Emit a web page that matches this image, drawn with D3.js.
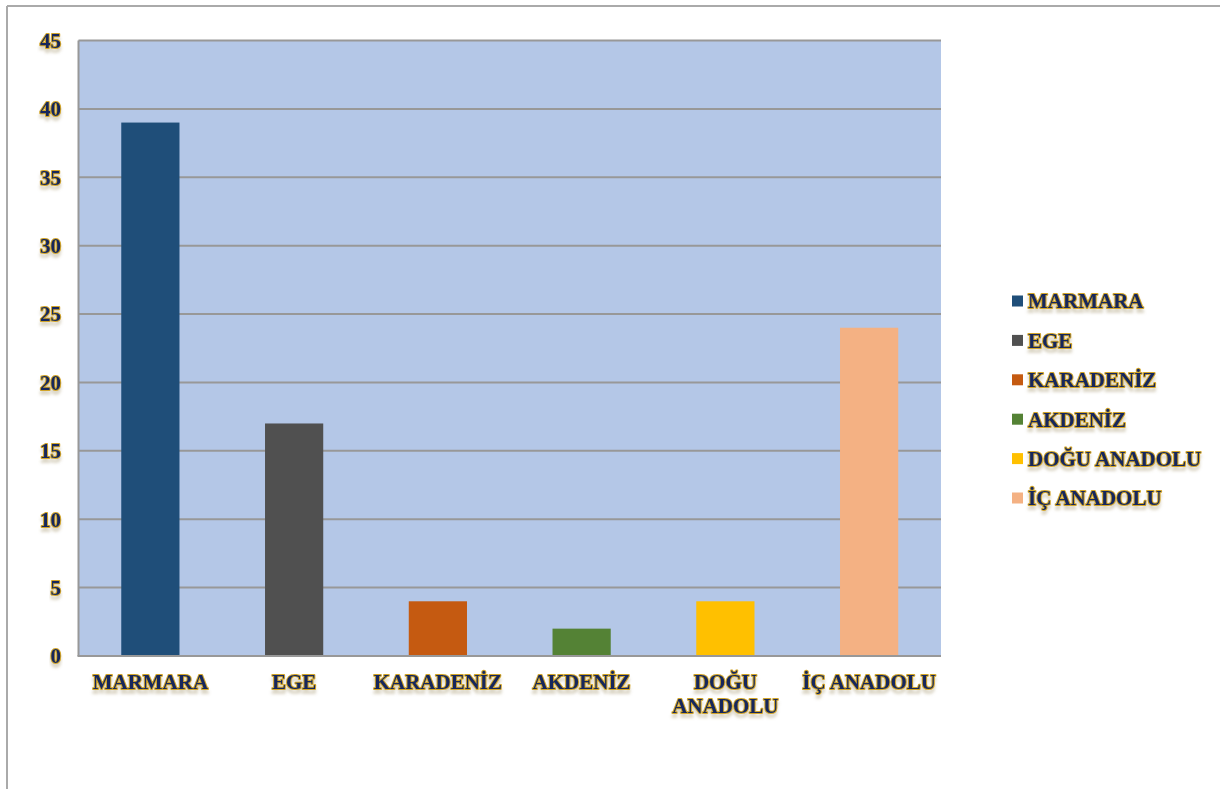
<!DOCTYPE html>
<html>
<head>
<meta charset="utf-8">
<script src="https://cdn.jsdelivr.net/npm/d3@7"></script>
<style>
body { margin: 0; background: #fff; }
.lbl { font-family: "Times New Roman", "Liberation Serif", Tinos, serif; font-weight: bold; font-size: 21px; }
</style>
</head>
<body>
<svg id="chart"></svg>
<script>
const width = 1229;
const height = 789;

const categories = ['MARMARA', 'EGE', 'KARADENİZ', 'AKDENİZ', 'DOĞU ANADOLU', 'İÇ ANADOLU'];
const values = [39, 17, 4, 2, 4, 24];
const colors = ['#1f4e79', '#505050', '#c55a11', '#548235', '#ffc000', '#f4b183'];
const axisLabels = [['MARMARA'], ['EGE'], ['KARADENİZ'], ['AKDENİZ'], ['DOĞU', 'ANADOLU'], ['İÇ ANADOLU']];
const yTicks = [0, 5, 10, 15, 20, 25, 30, 35, 40, 45];

const svg = d3.select('#chart').attr('width', width).attr('height', height);

// soft reflection-like shadow under labels
const defs = svg.append('defs');
defs.append('filter').attr('id', 'glow')
  .attr('x', '-10%').attr('y', '-20%').attr('width', '120%').attr('height', '180%')
  .append('feDropShadow')
  .attr('dx', 0).attr('dy', 4).attr('stdDeviation', 1.6)
  .attr('flood-color', '#9a8a60').attr('flood-opacity', 0.35);

// outer frame (only top and left visible)
svg.append('line').attr('x1', 7).attr('y1', 6).attr('x2', 1220).attr('y2', 6)
  .attr('stroke', '#aaa').attr('stroke-width', 2);
svg.append('line').attr('x1', 7).attr('y1', 6).attr('x2', 7).attr('y2', height)
  .attr('stroke', '#aaa').attr('stroke-width', 2);

const plot = { left: 78.5, top: 40.5, right: 941, bottom: 656 };

const x = d3.scaleBand().domain(categories).range([plot.left, plot.right]);
const y = d3.scaleLinear().domain([0, 45]).range([plot.bottom, plot.top]);

// word-art like label: navy fill, gold outline
const fancyText = (parent, tx, ty, lines, anchor) => {
  const t = parent.append('text').attr('class', 'lbl')
    .attr('transform', `translate(${tx},${ty})`)
    .attr('text-anchor', anchor)
    .attr('fill', '#14285c')
    .attr('stroke', '#d2a52a')
    .attr('stroke-width', 2)
    .attr('stroke-linejoin', 'round')
    .style('paint-order', 'stroke')
    .attr('filter', 'url(#glow)');
  lines.forEach((s, i) => {
    t.append('tspan').attr('x', 0).attr('y', i * 24).attr('dy', '0.35em').text(s);
  });
  return t;
};

// plot background
svg.append('rect')
  .attr('x', plot.left).attr('y', plot.top)
  .attr('width', plot.right - plot.left).attr('height', plot.bottom - plot.top)
  .attr('fill', '#b4c7e7');

// gridlines
svg.append('g').selectAll('line')
  .data(yTicks.filter(d => d > 0))
  .enter().append('line')
  .attr('x1', plot.left).attr('x2', plot.right)
  .attr('y1', d => y(d)).attr('y2', d => y(d))
  .attr('stroke', '#989898').attr('stroke-width', 2);

// bars
const barW = x.bandwidth() * 0.405;
svg.append('g').selectAll('rect')
  .data(values)
  .enter().append('rect')
  .attr('x', (d, i) => x(categories[i]) + x.bandwidth() / 2 - barW / 2)
  .attr('y', d => y(d))
  .attr('width', barW)
  .attr('height', d => y(0) - y(d))
  .attr('fill', (d, i) => colors[i]);

// axis lines
svg.append('line').attr('x1', plot.left).attr('x2', plot.left)
  .attr('y1', plot.top).attr('y2', plot.bottom)
  .attr('stroke', '#989898').attr('stroke-width', 2);
svg.append('line').attr('x1', plot.left - 1).attr('x2', plot.right)
  .attr('y1', plot.bottom).attr('y2', plot.bottom)
  .attr('stroke', '#989898').attr('stroke-width', 2);

// y tick labels
yTicks.forEach(t => fancyText(svg, 61, y(t), [String(t)], 'end'));

// x labels
categories.forEach((c, i) => {
  fancyText(svg, x(c) + x.bandwidth() / 2, 682, axisLabels[i], 'middle');
});

// legend
const legendY = d3.scalePoint().domain(categories).range([301, 498]);
categories.forEach((c, i) => {
  svg.append('rect')
    .attr('x', 1012).attr('y', legendY(c) - 5.5)
    .attr('width', 11).attr('height', 11)
    .attr('fill', colors[i]);
  fancyText(svg, 1028, legendY(c), [c], 'start');
});
</script>
</body>
</html>
